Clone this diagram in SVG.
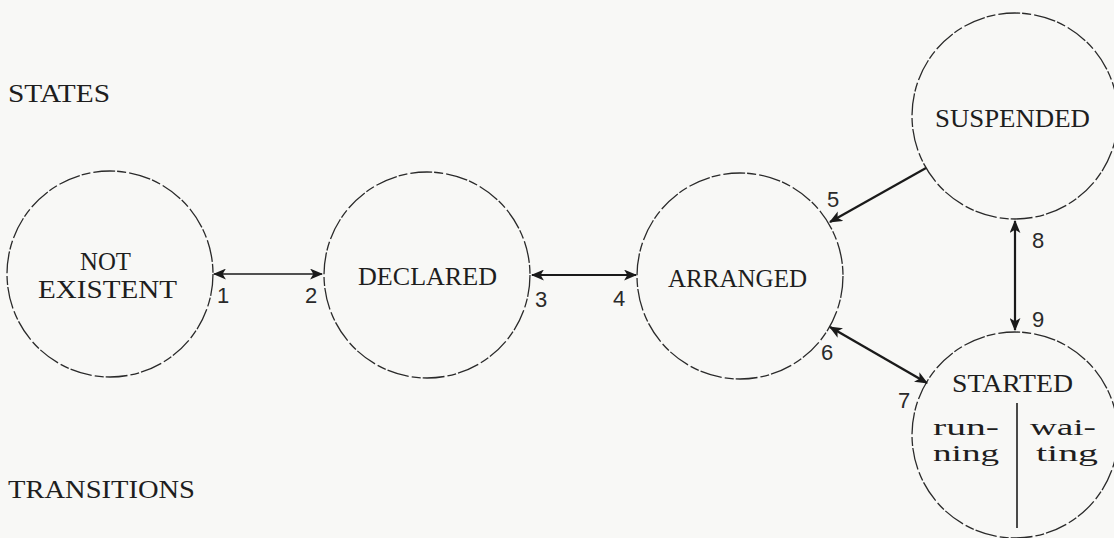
<svg xmlns="http://www.w3.org/2000/svg" width="1114" height="538" viewBox="0 0 1114 538">
<defs>
<marker id="ah" viewBox="0 0 12 10" refX="11" refY="5" markerWidth="13" markerHeight="11" markerUnits="userSpaceOnUse" orient="auto-start-reverse">
<path d="M0,0 L12,5 L0,10 L3,5 Z" fill="#1a1a1a"/>
</marker>
</defs>
<style>
.bg{fill:#f8f8f6}
.st{fill:none;stroke:#2a2a2a;stroke-width:1.3;stroke-dasharray:22 2 9 3}
.t{font-family:"Liberation Serif","DejaVu Serif",serif;font-size:25px;fill:#1e1e1e}
.s{font-family:"Liberation Serif","DejaVu Serif",serif;font-size:23px;fill:#1e1e1e}
.n{font-family:"Liberation Sans","DejaVu Sans",sans-serif;font-size:22px;fill:#2a2a2a}
.c{fill:none;stroke:#1a1a1a;marker-start:url(#ah);marker-end:url(#ah)}
.c1{fill:none;stroke:#1a1a1a;marker-end:url(#ah)}
</style>
<rect class="bg" x="0" y="0" width="1114" height="538"/>
<text class="t" x="8" y="102" textLength="102" lengthAdjust="spacingAndGlyphs">STATES</text>
<text class="t" x="8" y="498" textLength="187" lengthAdjust="spacingAndGlyphs">TRANSITIONS</text>
<g id="not-existent">
<circle class="st" cx="110" cy="274" r="103"/>
<text class="t" x="80" y="270" textLength="51" lengthAdjust="spacingAndGlyphs">NOT</text>
<text class="t" x="38" y="298" textLength="139" lengthAdjust="spacingAndGlyphs">EXISTENT</text>
</g>
<g id="declared">
<circle class="st" cx="427" cy="275" r="103"/>
<text class="t" x="358" y="285" textLength="139" lengthAdjust="spacingAndGlyphs">DECLARED</text>
</g>
<g id="arranged">
<circle class="st" cx="740" cy="276" r="103"/>
<text class="t" x="668" y="287" textLength="139" lengthAdjust="spacingAndGlyphs">ARRANGED</text>
</g>
<g id="suspended">
<circle class="st" cx="1015" cy="116" r="103"/>
<text class="t" x="935" y="127" textLength="155" lengthAdjust="spacingAndGlyphs">SUSPENDED</text>
</g>
<g id="started">
<circle class="st" cx="1015" cy="435" r="103"/>
<text class="t" x="952" y="392" textLength="121" lengthAdjust="spacingAndGlyphs">STARTED</text>
<line x1="1017" y1="403" x2="1017" y2="528" stroke="#1e1e1e" stroke-width="1.6"/>
<text class="s" x="933" y="435" textLength="66" lengthAdjust="spacingAndGlyphs">run-</text>
<text class="s" x="933" y="461" textLength="66" lengthAdjust="spacingAndGlyphs">ning</text>
<text class="s" x="1030" y="435" textLength="66" lengthAdjust="spacingAndGlyphs">wai-</text>
<text class="s" x="1036" y="461" textLength="62" lengthAdjust="spacingAndGlyphs">ting</text>
</g>
<g id="connectors">
<line class="c" x1="214" y1="274" x2="322" y2="274" stroke-width="1.5"/>
<line class="c" x1="532" y1="275" x2="636" y2="275" stroke-width="2"/>
<line class="c1" x1="926" y1="168" x2="830" y2="222" stroke-width="2.2"/>
<line class="c" x1="830" y1="327" x2="927" y2="383" stroke-width="2.4"/>
<line class="c" x1="1015" y1="221" x2="1015" y2="330" stroke-width="2.2"/>
</g>
<g id="labels">
<text class="n" x="217" y="303">1</text>
<text class="n" x="305" y="303">2</text>
<text class="n" x="535" y="307">3</text>
<text class="n" x="613" y="306">4</text>
<text class="n" x="827" y="207">5</text>
<text class="n" x="821" y="360">6</text>
<text class="n" x="898" y="408">7</text>
<text class="n" x="1032" y="248">8</text>
<text class="n" x="1032" y="327">9</text>
</g>
</svg>
